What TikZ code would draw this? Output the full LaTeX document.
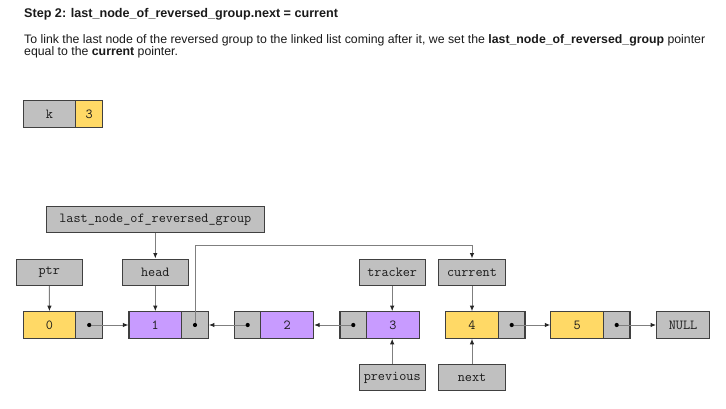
\documentclass[tikz,border=0pt]{standalone}
\usepackage{fontspec}
\setmainfont{Liberation Sans}
\usetikzlibrary{arrows.meta}
\definecolor{cellgray}{HTML}{C0C0C0}
\definecolor{cellyellow}{HTML}{FFD966}
\definecolor{cellpurple}{HTML}{C89BFF}
\definecolor{edgecol}{HTML}{404040}
\definecolor{wirecol}{HTML}{7F7F7F}
\definecolor{textcol}{HTML}{1A1A1A}
\tikzset{
  cell/.style={draw=edgecol, line width=1.1pt, minimum height=26.5pt, inner sep=0pt,
    font=\ttfamily\fontsize{13.8}{14}\selectfont, text=textcol},
  datacell/.style={cell, minimum width=52.7pt},
  ptrcell/.style={cell, fill=cellgray, minimum width=26.6pt},
  labelbox/.style={cell, fill=cellgray, minimum width=66.3pt},
  yel/.style={fill=cellyellow},
  pur/.style={fill=cellpurple},
  gry/.style={fill=cellgray},
  wire/.style={draw=wirecol, line width=1pt,
    -{Latex[length=5.5pt,width=4.5pt,color=black!85]}},
  dot/.style={circle, fill=black, inner sep=0pt, minimum size=4.2pt},
}
\begin{document}
\begin{tikzpicture}[x=1pt,y=-1pt]
\useasboundingbox[fill=white] (0,0) rectangle (726,409);

% heading and explanation
\node[anchor=base west, inner sep=0pt, text=textcol, font=\bfseries\fontsize{12.6}{14}\selectfont] (title)
  at (24,18) {Step 2: last\_node\_of\_reversed\_group.next = current};
\node[anchor=base west, inner sep=0pt, align=left, text=textcol, font=\fontsize{12.3}{12.7}\selectfont] (desc)
  at (24,56) {To link the last node of the reversed group to the linked list coming after it, we set the \textbf{last\_node\_of\_reversed\_group} pointer\\
  equal to the \textbf{current} pointer.};

% k variable
\node[datacell, gry] (kname) at (49.5,114) {k};
\node[ptrcell, yel] (kval) at (89.2,114) {3};

% pointer labels
\node[cell, gry, minimum width=218pt] (last) at (155.3,219.6) {last\_node\_of\_reversed\_group};
\node[labelbox] (ptr) at (49.2,272.3) {ptr};
\node[labelbox] (head) at (155.3,272.3) {head};
\node[labelbox] (tracker) at (392.2,272.3) {tracker};
\node[labelbox] (current) at (472,272.3) {current};
\node[labelbox] (previous) at (392.2,377.5) {previous};
\node[labelbox] (next) at (472,377.5) {next};

% list nodes
\node[datacell, yel] (n0) at (49.5,325) {0};
\node[ptrcell] (n0p) at (89.2,325) {};
\node[datacell, pur] (n1) at (155.3,325) {1};
\node[ptrcell] (n1p) at (195,325) {};
\node[ptrcell] (n2p) at (247.7,325) {};
\node[datacell, pur] (n2) at (287.2,325) {2};
\node[ptrcell] (n3p) at (353.3,325) {};
\node[datacell, pur] (n3) at (393,325) {3};
\node[datacell, yel] (n4) at (472,325) {4};
\node[ptrcell] (n4p) at (511.7,325) {};
\node[datacell, yel] (n5) at (577.2,325) {5};
\node[ptrcell] (n5p) at (616.7,325) {};
\node[datacell, gry] (null) at (683,325) {NULL};

% next links
\draw[wire] (n0p.center) -- (n1.west);
\draw[wire] (n2p.center) -- (n1p.east);
\draw[wire] (n3p.center) -- (n2.east);
\draw[wire] (n4p.center) -- (n5.west);
\draw[wire] (n5p.center) -- (null.west);
\coordinate (bend) at (472,245.5);
\draw[wire] (n1p.center) |- (bend) -- (current.north);

% pointer arrows
\draw[wire] (last) -- (head);
\draw[wire] (ptr) -- (n0);
\draw[wire] (head) -- (n1);
\draw[wire] (tracker) -- (n3.north -| tracker);
\draw[wire] (current) -- (n4);
\draw[wire] (previous) -- (n3.south -| previous);
\draw[wire] (next) -- (n4);

% pointer dots
\foreach \p in {n0p,n1p,n2p,n3p,n4p,n5p} \node[dot] at (\p.center) {};
\end{tikzpicture}
\end{document}
